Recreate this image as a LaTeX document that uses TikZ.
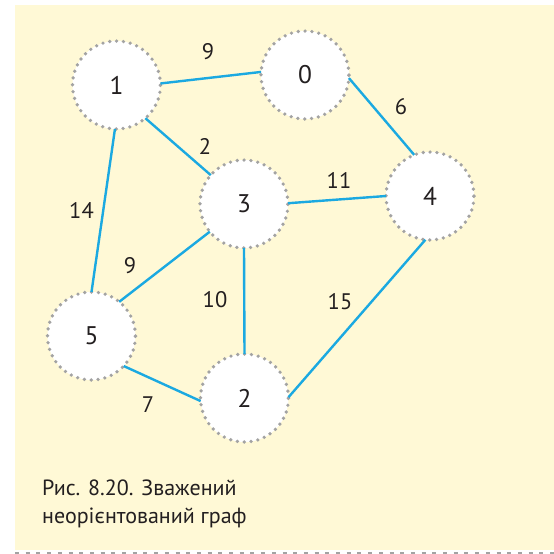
\documentclass[tikz,border=0pt]{standalone}
\usepackage{fontspec}
\setmainfont{PT Sans}
\definecolor{bgyellow}{HTML}{FFF9D6}
\definecolor{edgeblue}{HTML}{1BA9E1}
\definecolor{dotgray}{HTML}{A3A3A3}
\definecolor{txt}{HTML}{231F20}
\begin{document}
\begin{tikzpicture}[x=1pt,y=-1pt,
  vertex/.style={circle, fill=white, draw=dotgray, line width=3.7pt,
    dash pattern=on 0pt off 6.9pt, line cap=round, minimum size=88pt,
    inner sep=0pt, outer sep=0pt, font=\fontsize{25.5}{28}\selectfont, text=txt},
  wedge/.style={draw=edgeblue, line width=2.4pt},
  wlabel/.style={font=\fontsize{22.5}{25}\selectfont, text=txt, inner sep=0pt}]
\useasboundingbox (0,0) rectangle (554,554);
\fill[bgyellow] (15,5) rectangle (554,550);
\draw[dotgray, line width=2pt, dash pattern=on 4pt off 6.7pt] (15,553) -- (554,553);
\node[vertex] (n1) at (116.5,85) {1};
\node[vertex] (n0) at (305,75) {0};
\node[vertex] (n4) at (430,196) {4};
\node[vertex] (n3) at (244,204) {3};
\node[vertex] (n5) at (91.5,336) {5};
\node[vertex] (n2) at (244.5,398) {2};
\draw[wedge] (n1.2.6) -- (n0.176);
\draw[wedge] (n0.-4) -- (n4.111.6);
\draw[wedge] (n1.-49) -- (n3.139.5);
\draw[wedge] (n3.1.3) -- (n4.180);
\draw[wedge] (n1.-92) -- (n5.90);
\draw[wedge] (n3.-141) -- (n5.51);
\draw[wedge] (n3.270) -- (n2.90);
\draw[wedge] (n5.-43) -- (n2.184);
\draw[wedge] (n2.1) -- (n4.264);
\node[wlabel] (w10) at (208,52) {9};
\node[wlabel] (w04) at (401,107) {6};
\node[wlabel] (w13) at (205,146) {2};
\node[wlabel] (w34) at (339,180) {11};
\node[wlabel] (w15) at (81.5,210) {14};
\node[wlabel] (w35) at (130,266) {9};
\node[wlabel] (w32) at (215,300) {10};
\node[wlabel] (w24) at (340,302) {15};
\node[wlabel] (w52) at (148,405) {7};
\node[anchor=base west, inner sep=0pt, text=txt, font=\fontsize{22}{28}\selectfont, align=left] (cap) at (42,523) {Рис. 8.20. Зважений\\неорієнтований граф};
\end{tikzpicture}
\end{document}
